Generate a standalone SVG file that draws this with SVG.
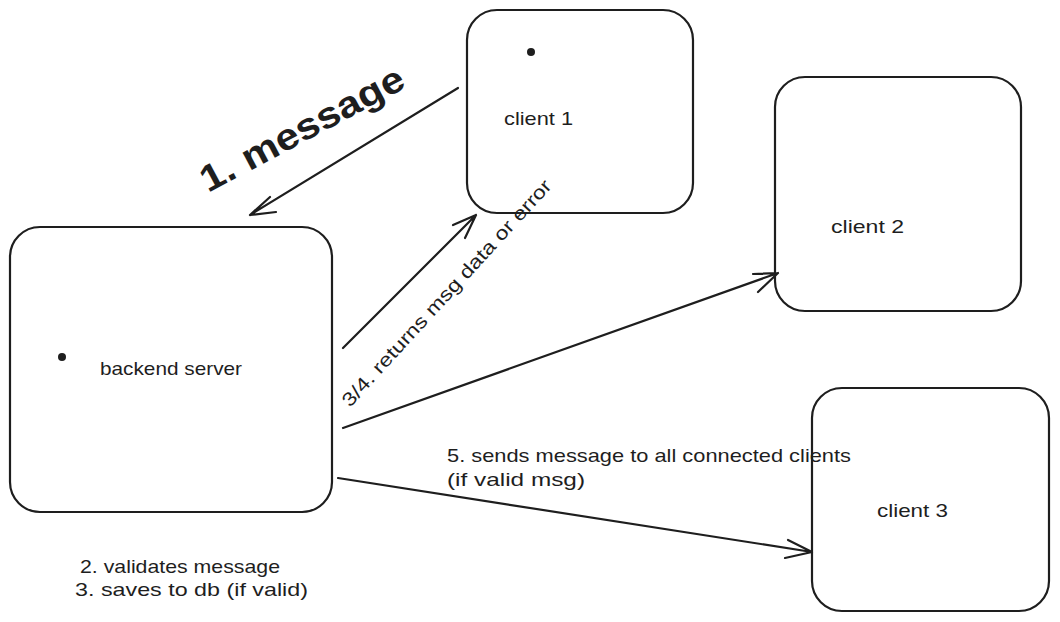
<svg xmlns="http://www.w3.org/2000/svg" width="1060" height="622" viewBox="0 0 1060 622">
<style>
.box{fill:#fff;stroke:#1e1e1e;stroke-width:2.2}
.t{font-family:"Liberation Sans","DejaVu Sans",sans-serif;font-size:19px;fill:#1e1e1e}
.c{fill:none;stroke:#1e1e1e;stroke-width:2.2;stroke-linecap:round;stroke-linejoin:round}
.dot{fill:#1e1e1e}
</style>
<rect width="1060" height="622" fill="#fff"/>
<g id="backend">
<rect class="box" x="10" y="227" width="322" height="285" rx="30"/>
<circle class="dot" cx="62" cy="357" r="4"/>
<text class="t" x="100" y="375" textLength="142" lengthAdjust="spacingAndGlyphs">backend server</text>
</g>
<g id="client1">
<rect class="box" x="467" y="10" width="226" height="203" rx="30"/>
<circle class="dot" cx="531" cy="52" r="4"/>
<text class="t" x="504" y="125" textLength="69" lengthAdjust="spacingAndGlyphs">client 1</text>
</g>
<g id="client2">
<rect class="box" x="775" y="77" width="246" height="234" rx="30"/>
<text class="t" x="831" y="233" textLength="73" lengthAdjust="spacingAndGlyphs">client 2</text>
</g>
<g id="client3">
<rect class="box" x="812" y="388" width="237" height="223" rx="30"/>
<text class="t" x="877" y="517" textLength="71" lengthAdjust="spacingAndGlyphs">client 3</text>
</g>
<g id="connectors">
<path class="c" d="M458 88 L250 215 M270 197 L250 215 L276 212"/>
<path class="c" d="M343 348 L476 215 M453 225 L476 215 L465 238"/>
<path class="c" d="M343 428 L778 273 M753 274 L778 273 L758 292" stroke-width="2.6"/>
<path class="c" d="M338 478 L812 552 M788 540 L812 552 L785 558" stroke-width="2.6"/>
</g>
<g id="labels">
<text class="t" transform="translate(208,193) rotate(-28)" style="font-size:37px;font-weight:bold" textLength="226" lengthAdjust="spacingAndGlyphs">1. message</text>
<text class="t" transform="translate(350,408) rotate(-47.5)" textLength="300" lengthAdjust="spacingAndGlyphs">3/4. returns msg data or error</text>
<text class="t" x="447" y="462" textLength="404" lengthAdjust="spacingAndGlyphs">5. sends message to all connected clients</text>
<text class="t" x="447" y="486" textLength="138" lengthAdjust="spacingAndGlyphs">(if valid msg)</text>
<text class="t" x="80" y="573" textLength="200" lengthAdjust="spacingAndGlyphs">2. validates message</text>
<text class="t" x="75" y="596" textLength="233" lengthAdjust="spacingAndGlyphs">3. saves to db (if valid)</text>
</g>
</svg>
